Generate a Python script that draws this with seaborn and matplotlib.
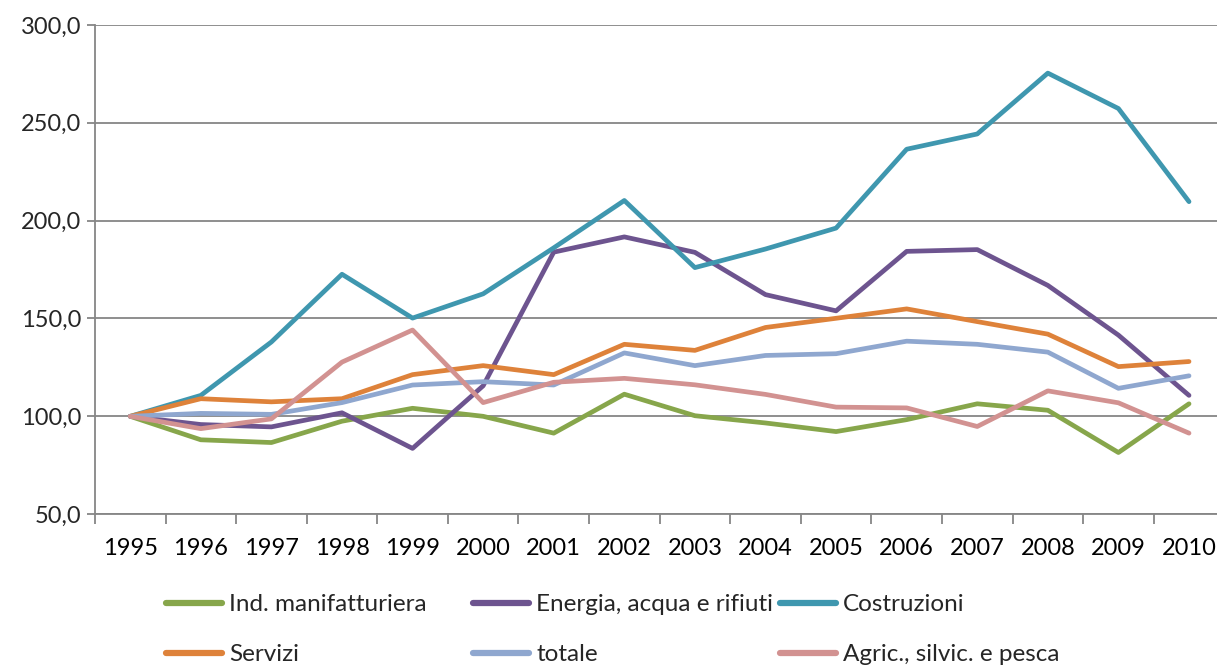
import pandas as pd
import matplotlib.pyplot as plt
import seaborn as sns
from matplotlib.lines import Line2D
from matplotlib.ticker import FuncFormatter, MultipleLocator

# Data (index, 1995 = 100)
years = list(range(1995, 2011))
manifatturiera = [100, 88.0, 86.6, 97.5, 104.1, 100.0, 91.4, 111.3, 100.3, 96.6, 92.2, 98.3, 106.4, 103.1, 81.5, 106.4]
energia = [100, 95.8, 94.6, 101.8, 83.6, 115.6, 183.9, 191.7, 183.8, 162.2, 153.9, 184.3, 185.2, 166.9, 141.5, 110.7]
costruzioni = [100, 110.7, 138.0, 172.6, 150.2, 162.6, 186.1, 210.3, 176.0, 185.5, 196.2, 236.5, 244.3, 275.4, 257.3, 209.7]
servizi = [100, 109.0, 107.4, 109.0, 121.3, 125.9, 121.3, 136.8, 133.7, 145.4, 150.1, 154.9, 148.4, 142.0, 125.4, 128.0]
totale = [100, 101.5, 101.0, 107.0, 116.0, 117.7, 116.0, 132.4, 125.9, 131.1, 132.0, 138.4, 136.8, 132.8, 114.3, 120.7]
agricoltura = [100, 93.7, 98.7, 127.7, 144.1, 107.0, 117.4, 119.4, 116.1, 111.2, 104.7, 104.3, 94.8, 113.0, 106.9, 91.4]

series = {
    'Ind. manifatturiera': manifatturiera,
    'Energia, acqua e rifiuti': energia,
    'Costruzioni': costruzioni,
    'Servizi': servizi,
    'totale': totale,
    'Agric., silvic. e pesca': agricoltura,
}
colors = {
    'Ind. manifatturiera': '#87A64B',
    'Energia, acqua e rifiuti': '#6D548F',
    'Costruzioni': '#3F97AF',
    'Servizi': '#DE823A',
    'totale': '#8FA7CF',
    'Agric., silvic. e pesca': '#D29291',
}

rows = []
for name, vals in series.items():
    for y, v in zip(years, vals):
        rows.append({'anno': y, 'valore': v, 'settore': name})
df = pd.DataFrame(rows)

sns.set_style('white')
plt.rcParams['font.family'] = ['Lato', 'DejaVu Sans']

fig = plt.figure(figsize=(12.17, 6.66), dpi=100)
ax = fig.add_axes([0.078, 0.228, 0.928, 0.7345])

sns.lineplot(data=df, x='anno', y='valore', hue='settore', hue_order=list(series),
             palette=colors, linewidth=3.4, legend=False, ax=ax)

ax.set_xlim(1994.5, 2010.5)
ax.set_ylim(50, 300)
ax.yaxis.set_major_locator(MultipleLocator(50))
ax.yaxis.set_major_formatter(FuncFormatter(lambda v, p: f'{v:.1f}'.replace('.', ',')))
ax.set_xticks(years)
ax.set_xticklabels([str(y) for y in years])
ax.set_xticks([y + 0.5 for y in range(1994, 2010)], minor=True)
ax.tick_params(axis='x', which='major', length=0, pad=17, labelsize=17, colors='black')
ax.tick_params(axis='x', which='minor', length=7, width=1.3, color='#868686', direction='out', bottom=True)
ax.tick_params(axis='y', length=6, width=1.3, color='#868686', direction='out', left=True, labelsize=17, pad=4)
ax.set_xlabel('')
ax.set_ylabel('')

ax.grid(axis='y', color='#868686', linewidth=1.3)
ax.set_axisbelow(True)
for side in ['top', 'right']:
    ax.spines[side].set_visible(False)
for side in ['left', 'bottom']:
    ax.spines[side].set_color('#868686')
    ax.spines[side].set_linewidth(1.3)

# Excel-style legend: three fixed-width columns, two rows
names = list(series)
cols = [names[0::3], names[1::3], names[2::3]]
col_x = [166, 473, 780]
for xs, group in zip(col_x, cols):
    handles = [Line2D([], [], color=colors[n], linewidth=4.5, solid_capstyle='round') for n in group]
    leg = fig.legend(handles, group, loc='upper left', bbox_to_anchor=(xs / 1217, 1 - 594 / 666),
                     frameon=False, fontsize=17.5, handlelength=2.3, handletextpad=0.3,
                     labelspacing=1.2, borderaxespad=0, borderpad=0)

fig.savefig('out.png', dpi=100)
